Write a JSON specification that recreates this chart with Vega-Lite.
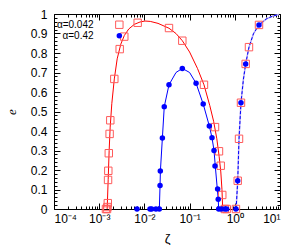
{
  "$schema": "https://vega.github.io/schema/vega-lite/v6.json",
  "width": 226,
  "height": 195,
  "autosize": "none",
  "padding": {"left": 54, "top": 14, "right": 20, "bottom": 36},
  "config": {
    "view": {"stroke": "#000", "strokeWidth": 1},
    "axis": {"domain": false, "grid": false, "labelFont": "Liberation Sans", "labelFontSize": 12, "labelColor": "#000", "tickColor": "#000", "tickWidth": 1, "titleFont": "Liberation Sans", "titleFontWeight": "normal", "titleColor": "#000", "titleFontSize": 13}
  },
  "datasets": {
    "redline": [
      {"z": 0.0015, "e": 0}, {"z": 0.00158, "e": 0.15}, {"z": 0.00166, "e": 0.3}, {"z": 0.00175, "e": 0.42}, {"z": 0.0019, "e": 0.54}, {"z": 0.00216, "e": 0.667}, {"z": 0.0025, "e": 0.77}, {"z": 0.003, "e": 0.845}, {"z": 0.0036, "e": 0.89}, {"z": 0.0045, "e": 0.923}, {"z": 0.006, "e": 0.947}, {"z": 0.008, "e": 0.959}, {"z": 0.0103, "e": 0.964}, {"z": 0.0135, "e": 0.962}, {"z": 0.02, "e": 0.952}, {"z": 0.035, "e": 0.927}, {"z": 0.05, "e": 0.9}, {"z": 0.069, "e": 0.863}, {"z": 0.1, "e": 0.805}, {"z": 0.15, "e": 0.72}, {"z": 0.208, "e": 0.637}, {"z": 0.28, "e": 0.53}, {"z": 0.34, "e": 0.45}, {"z": 0.4, "e": 0.36}, {"z": 0.45, "e": 0.27}, {"z": 0.49, "e": 0.19}, {"z": 0.52, "e": 0.1}, {"z": 0.54, "e": 0}
    ],
    "blueline": [
      {"z": 0.0214, "e": 0}, {"z": 0.0222, "e": 0.121}, {"z": 0.0226, "e": 0.195}, {"z": 0.025, "e": 0.364}, {"z": 0.0275, "e": 0.525}, {"z": 0.035, "e": 0.637}, {"z": 0.05, "e": 0.7}, {"z": 0.069, "e": 0.721}, {"z": 0.1, "e": 0.7}, {"z": 0.139, "e": 0.645}, {"z": 0.2, "e": 0.538}, {"z": 0.273, "e": 0.426}, {"z": 0.313, "e": 0.366}, {"z": 0.347, "e": 0.3}, {"z": 0.37, "e": 0.22}, {"z": 0.41, "e": 0.103}, {"z": 0.43, "e": 0.05}, {"z": 0.44, "e": 0}
    ],
    "dash": [
      {"z": 1.07, "e": 0}, {"z": 1.16, "e": 0.145}, {"z": 1.24, "e": 0.36}, {"z": 1.37, "e": 0.545}, {"z": 1.55, "e": 0.665}, {"z": 1.74, "e": 0.744}, {"z": 2.06, "e": 0.83}, {"z": 2.6, "e": 0.9}, {"z": 3.43, "e": 0.944}, {"z": 5, "e": 0.975}, {"z": 7, "e": 0.99}, {"z": 9.5, "e": 0.997}
    ],
    "red": [
      {"z": 0.00141, "e": 0}, {"z": 0.00149, "e": 0}, {"z": 0.00152, "e": 0.01}, {"z": 0.00155, "e": 0.03}, {"z": 0.00157, "e": 0.149}, {"z": 0.00159, "e": 0.196}, {"z": 0.00163, "e": 0.286}, {"z": 0.0017, "e": 0.385}, {"z": 0.00176, "e": 0.455}, {"z": 0.00216, "e": 0.667}, {"z": 0.00284, "e": 0.82}, {"z": 0.00359, "e": 0.884}, {"z": 0.0071, "e": 0.955}, {"z": 0.035, "e": 0.928}, {"z": 0.069, "e": 0.863}, {"z": 0.208, "e": 0.637}, {"z": 0.365, "e": 0.42}, {"z": 0.447, "e": 0.296}, {"z": 0.488, "e": 0.222}, {"z": 0.528, "e": 0.072}, {"z": 0.6, "e": 0}, {"z": 0.66, "e": 0}, {"z": 1.06, "e": 0}, {"z": 1.16, "e": 0.145}, {"z": 1.24, "e": 0.36}, {"z": 1.37, "e": 0.545}, {"z": 1.74, "e": 0.744}, {"z": 2.06, "e": 0.83}, {"z": 3.43, "e": 0.944}
    ],
    "blue": [
      {"z": 0.00686, "e": 0}, {"z": 0.0133, "e": 0}, {"z": 0.0145, "e": 0}, {"z": 0.018, "e": 0}, {"z": 0.0214, "e": 0}, {"z": 0.0222, "e": 0.121}, {"z": 0.0225, "e": 0.195}, {"z": 0.025, "e": 0.364}, {"z": 0.0275, "e": 0.525}, {"z": 0.035, "e": 0.637}, {"z": 0.069, "e": 0.721}, {"z": 0.139, "e": 0.645}, {"z": 0.2, "e": 0.538}, {"z": 0.273, "e": 0.426}, {"z": 0.313, "e": 0.366}, {"z": 0.347, "e": 0.3}, {"z": 0.365, "e": 0.22}, {"z": 0.417, "e": 0.103}, {"z": 0.43, "e": 0.05}, {"z": 0.44, "e": 0}, {"z": 0.5, "e": 0}, {"z": 0.6, "e": 0}, {"z": 0.66, "e": 0}, {"z": 1.06, "e": 0}, {"z": 1.16, "e": 0.145}, {"z": 1.37, "e": 0.545}, {"z": 1.74, "e": 0.744}, {"z": 3.43, "e": 0.944}
    ],
    "key": [
      {"label": "α=0.042", "series": "a", "tz": 0.00075, "sz": 0.00279, "e": 0.945},
      {"label": "α=0.42", "series": "b", "tz": 0.00075, "sz": 0.00279, "e": 0.889}
    ]
  },
  "resolve": {"axis": {"x": "independent", "y": "independent"}},
  "layer": [
    {
      "data": {"name": "redline"},
      "mark": {"type": "line", "color": "#ff0000", "strokeWidth": 1},
      "encoding": {
        "x": {"field": "z", "type": "quantitative", "scale": {"type": "log", "domain": [0.0001, 10]},
          "axis": {"orient": "bottom", "values": [0.0001, 0.001, 0.01, 0.1, 1, 10], "ticks": false, "labelPadding": 4, "labelExpr": "'10' + ['⁻⁴','⁻³','⁻²','⁻¹','⁰','¹'][round(log(datum.value)/LN10)+4]", "title": "ζ", "titlePadding": 8}},
        "y": {"field": "e", "type": "quantitative", "scale": {"domain": [0, 1]},
          "axis": {"orient": "left", "values": [0, 0.1, 0.2, 0.3, 0.4, 0.5, 0.6, 0.7, 0.8, 0.9, 1], "ticks": false, "labelPadding": 7, "format": ".1~f", "title": "e", "titleFont": "Liberation Serif", "titleFontStyle": "italic", "titlePadding": 12}}
      }
    },
    {
      "data": {"name": "blueline"},
      "mark": {"type": "line", "color": "#0000ff", "strokeWidth": 1},
      "encoding": {
        "x": {"field": "z", "type": "quantitative", "scale": {"type": "log", "domain": [0.0001, 10]},
          "axis": {"orient": "bottom", "values": [0.0001, 0.001, 0.01, 0.1, 1, 10], "labels": false, "tickSize": -6, "title": null}},
        "y": {"field": "e", "type": "quantitative", "scale": {"domain": [0, 1]},
          "axis": {"orient": "left", "values": [0, 0.1, 0.2, 0.3, 0.4, 0.5, 0.6, 0.7, 0.8, 0.9, 1], "labels": false, "tickSize": -6, "title": null}}
      }
    },
    {
      "data": {"name": "dash"},
      "mark": {"type": "line", "color": "#b4a8f4", "strokeWidth": 1.5},
      "encoding": {
        "x": {"field": "z", "type": "quantitative", "scale": {"type": "log", "domain": [0.0001, 10]},
          "axis": {"orient": "bottom", "values": [0.0002, 0.0003, 0.0004, 0.0005, 0.0006, 0.0007, 0.0008, 0.0009, 0.002, 0.003, 0.004, 0.005, 0.006, 0.007, 0.008, 0.009, 0.02, 0.03, 0.04, 0.05, 0.06, 0.07, 0.08, 0.09, 0.2, 0.3, 0.4, 0.5, 0.6, 0.7, 0.8, 0.9, 2, 3, 4, 5, 6, 7, 8, 9], "labels": false, "tickSize": -3, "title": null}},
        "y": {"field": "e", "type": "quantitative", "scale": {"domain": [0, 1]},
          "axis": {"orient": "left", "values": [0.02, 0.04, 0.06, 0.08, 0.12, 0.14, 0.16, 0.18, 0.22, 0.24, 0.26, 0.28, 0.32, 0.34, 0.36, 0.38, 0.42, 0.44, 0.46, 0.48, 0.52, 0.54, 0.56, 0.58, 0.62, 0.64, 0.66, 0.68, 0.72, 0.74, 0.76, 0.78, 0.82, 0.84, 0.86, 0.88, 0.92, 0.94, 0.96, 0.98], "labels": false, "tickSize": -3, "title": null}}
      }
    },
    {
      "data": {"name": "dash"},
      "mark": {"type": "line", "color": "#0000ff", "strokeWidth": 1, "strokeDash": [3, 2]},
      "encoding": {
        "x": {"field": "z", "type": "quantitative", "scale": {"type": "log", "domain": [0.0001, 10]},
          "axis": {"orient": "top", "values": [0.0001, 0.001, 0.01, 0.1, 1, 10], "labels": false, "tickSize": -6, "title": null}},
        "y": {"field": "e", "type": "quantitative", "scale": {"domain": [0, 1]},
          "axis": {"orient": "right", "values": [0, 0.1, 0.2, 0.3, 0.4, 0.5, 0.6, 0.7, 0.8, 0.9, 1], "labels": false, "tickSize": -6, "title": null}}
      }
    },
    {
      "data": {"name": "red"},
      "mark": {"type": "point", "shape": "square", "filled": false, "color": "#ff5a5a", "size": 55, "strokeWidth": 1, "opacity": 1},
      "encoding": {
        "x": {"field": "z", "type": "quantitative", "scale": {"type": "log", "domain": [0.0001, 10]},
          "axis": {"orient": "top", "values": [0.0002, 0.0003, 0.0004, 0.0005, 0.0006, 0.0007, 0.0008, 0.0009, 0.002, 0.003, 0.004, 0.005, 0.006, 0.007, 0.008, 0.009, 0.02, 0.03, 0.04, 0.05, 0.06, 0.07, 0.08, 0.09, 0.2, 0.3, 0.4, 0.5, 0.6, 0.7, 0.8, 0.9, 2, 3, 4, 5, 6, 7, 8, 9], "labels": false, "tickSize": -3, "title": null}},
        "y": {"field": "e", "type": "quantitative", "scale": {"domain": [0, 1]},
          "axis": {"orient": "right", "values": [0.02, 0.04, 0.06, 0.08, 0.12, 0.14, 0.16, 0.18, 0.22, 0.24, 0.26, 0.28, 0.32, 0.34, 0.36, 0.38, 0.42, 0.44, 0.46, 0.48, 0.52, 0.54, 0.56, 0.58, 0.62, 0.64, 0.66, 0.68, 0.72, 0.74, 0.76, 0.78, 0.82, 0.84, 0.86, 0.88, 0.92, 0.94, 0.96, 0.98], "labels": false, "tickSize": -3, "title": null}}
      }
    },
    {
      "data": {"name": "blue"},
      "mark": {"type": "point", "shape": "circle", "filled": true, "color": "#0000ff", "size": 30, "opacity": 1},
      "encoding": {
        "x": {"field": "z", "type": "quantitative", "scale": {"type": "log", "domain": [0.0001, 10]}, "axis": null},
        "y": {"field": "e", "type": "quantitative", "scale": {"domain": [0, 1]}, "axis": null}
      }
    },
    {
      "data": {"name": "key"},
      "mark": {"type": "text", "align": "right", "baseline": "middle", "font": "Liberation Sans", "fontSize": 10, "color": "#000"},
      "encoding": {
        "x": {"field": "tz", "type": "quantitative", "scale": {"type": "log", "domain": [0.0001, 10]}, "axis": null},
        "y": {"field": "e", "type": "quantitative", "scale": {"domain": [0, 1]}, "axis": null},
        "text": {"field": "label"}
      }
    },
    {
      "data": {"name": "key"},
      "transform": [{"filter": "datum.series === 'a'"}],
      "mark": {"type": "point", "shape": "square", "filled": false, "color": "#ff5a5a", "size": 55, "strokeWidth": 1, "opacity": 1},
      "encoding": {
        "x": {"field": "sz", "type": "quantitative", "scale": {"type": "log", "domain": [0.0001, 10]}, "axis": null},
        "y": {"field": "e", "type": "quantitative", "scale": {"domain": [0, 1]}, "axis": null}
      }
    },
    {
      "data": {"name": "key"},
      "transform": [{"filter": "datum.series === 'b'"}],
      "mark": {"type": "point", "shape": "circle", "filled": true, "color": "#0000ff", "size": 30, "opacity": 1},
      "encoding": {
        "x": {"field": "sz", "type": "quantitative", "scale": {"type": "log", "domain": [0.0001, 10]}, "axis": null},
        "y": {"field": "e", "type": "quantitative", "scale": {"domain": [0, 1]}, "axis": null}
      }
    }
  ]
}
